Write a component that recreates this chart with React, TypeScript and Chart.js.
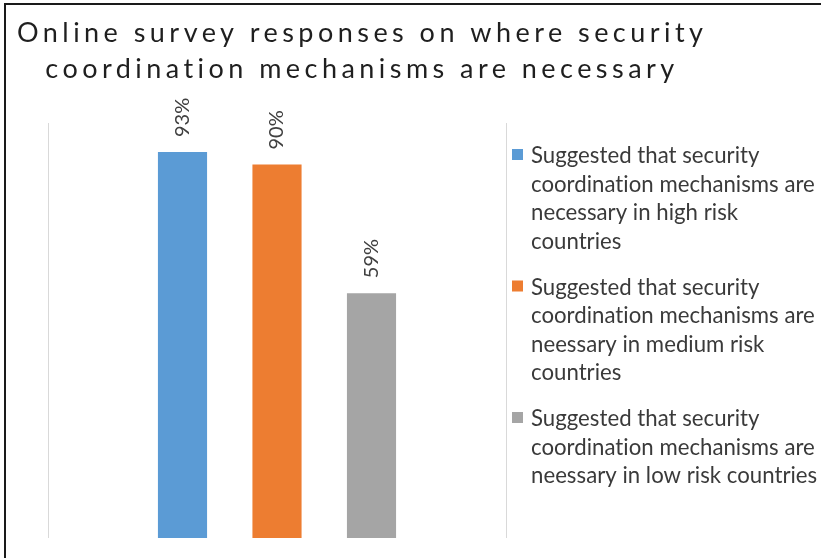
import React, { useEffect, useRef } from "react";
import { Chart, registerables } from "chart.js";

Chart.register(...registerables);

const categories = ["Survey"];
const highRisk = [93];
const mediumRisk = [90];
const lowRisk = [59];

const seriesLabelLines = [
  ["Suggested that security", "coordination mechanisms are", "necessary in high risk", "countries"],
  ["Suggested that security", "coordination mechanisms are", "neessary in medium risk", "countries"],
  ["Suggested that security", "coordination mechanisms are", "neessary in low risk countries"],
];
const seriesColors = ["#5B9BD5", "#ED7D31", "#A5A5A5"];
const titleLines = [
  "Online survey responses on where security",
  "coordination mechanisms are necessary",
];

const FONT = "Lato, 'Open Sans', sans-serif";

const framePlugin = {
  id: "frame",
  beforeDraw(chart: any) {
    const ctx = chart.ctx;
    ctx.save();
    ctx.fillStyle = "#ffffff";
    ctx.fillRect(0, 0, chart.width, chart.height);
    ctx.strokeStyle = "#1a1a1a";
    ctx.lineWidth = 2;
    ctx.beginPath();
    ctx.moveTo(5, chart.height);
    ctx.lineTo(5, 4);
    ctx.lineTo(chart.width, 4);
    ctx.stroke();
    ctx.restore();
  },
};

const titlePlugin = {
  id: "spacedTitle",
  afterDraw(chart: any) {
    const ctx = chart.ctx;
    ctx.save();
    ctx.font = `27px ${FONT}`;
    ctx.fillStyle = "#1f1f1f";
    ctx.textBaseline = "alphabetic";
    ctx.textAlign = "left";
    (ctx as any).letterSpacing = "0px";
    const w0 = ctx.measureText(titleLines[0]).width;
    const target = 686;
    const spacing = (target - w0) / (titleLines[0].length - 1);
    const center = 360;
    const baselines = [42, 78];
    titleLines.forEach((line, i) => {
      (ctx as any).letterSpacing = "0px";
      const w = ctx.measureText(line).width + spacing * (line.length - 1);
      (ctx as any).letterSpacing = `${spacing}px`;
      ctx.fillText(line, center - w / 2, baselines[i]);
    });
    ctx.restore();
  },
};

const legendPlugin = {
  id: "wrapLegend",
  afterDraw(chart: any) {
    const ctx = chart.ctx;
    ctx.save();
    ctx.font = `22.2px ${FONT}`;
    (ctx as any).letterSpacing = "0.02px";
    ctx.textBaseline = "alphabetic";
    ctx.textAlign = "left";
    const lineH = 28.5;
    const gap = 17.5;
    let y = 163;
    seriesLabelLines.forEach((lines, i) => {
      ctx.fillStyle = seriesColors[i];
      ctx.fillRect(512, y - 14, 11, 11);
      ctx.fillStyle = "#3a3a3a";
      lines.forEach((ln, k) => {
        ctx.fillText(ln, 531, y + k * lineH);
      });
      y += lines.length * lineH + gap;
    });
    ctx.restore();
  },
};

const valueLabelPlugin = {
  id: "valueLabels",
  afterDatasetsDraw(chart: any) {
    const ctx = chart.ctx;
    ctx.save();
    ctx.font = `20px ${FONT}`;
    ctx.fillStyle = "#404040";
    ctx.textAlign = "left";
    ctx.textBaseline = "middle";
    chart.data.datasets.forEach((ds: any, i: number) => {
      const meta = chart.getDatasetMeta(i);
      meta.data.forEach((bar: any, j: number) => {
        const v = ds.data[j];
        ctx.save();
        ctx.translate(bar.x, bar.y - 15);
        ctx.rotate(-Math.PI / 2);
        ctx.fillText(`${v}%`, 0, 0);
        ctx.restore();
      });
    });
    ctx.restore();
  },
};

export default function App() {
  const ref = useRef<HTMLCanvasElement | null>(null);

  useEffect(() => {
    if (!ref.current) return;
    const seriesData = [highRisk, mediumRisk, lowRisk];
    const chart = new Chart(ref.current, {
      type: "bar",
      data: {
        labels: categories,
        datasets: seriesData.map((d, i) => ({
          label: seriesLabelLines[i].join(" "),
          data: d,
          backgroundColor: seriesColors[i],
          borderWidth: 0,
          categoryPercentage: 0.619,
          barPercentage: 0.52,
        })),
      },
      options: {
        animation: false,
        responsive: false,
        maintainAspectRatio: false,
        layout: { padding: { left: 48, right: 315, top: 123, bottom: 20 } },
        plugins: {
          legend: { display: false },
          title: { display: false },
          tooltip: { enabled: false },
        },
        scales: {
          x: {
            type: "category",
            offset: true,
            grid: { display: true, offset: true, color: "#d9d9d9", lineWidth: 1, drawTicks: false },
            border: { display: false },
            ticks: { display: false },
            afterFit: (s: any) => {
              s.height = 0;
            },
          },
          y: { display: false, min: 0, max: 100 },
        },
      } as any,
      plugins: [framePlugin, titlePlugin, legendPlugin, valueLabelPlugin],
    });
    return () => chart.destroy();
  }, []);

  return (
    <div style={{ position: "absolute", left: 0, top: 0, width: 821, height: 558 }}>
      <canvas ref={ref} width={821} height={558} style={{ display: "block" }} />
    </div>
  );
}
